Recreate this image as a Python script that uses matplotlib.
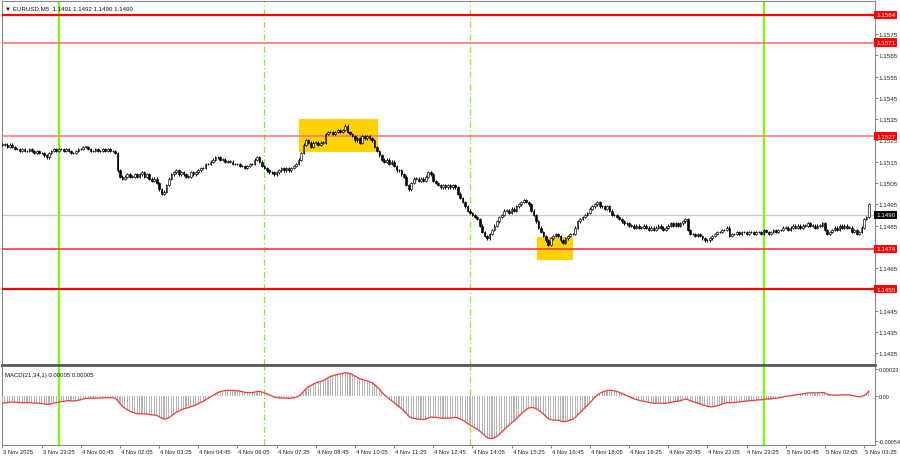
import numpy as np
import matplotlib
matplotlib.use("Agg")
import matplotlib.pyplot as plt
import matplotlib.transforms as mtransforms
from matplotlib.patches import Rectangle

# ---------------- data ----------------
header_text = "\u25bc EURUSD,M5  1.1491 1.1492 1.1490 1.1490"
macd_text = "MACD(21,34,1) 0.00005 0.00005"

# M5 closes, 3 Nov 22:05 -> 5 Nov 03:35
closes = [
    1.1523, 1.1523, 1.1522, 1.1523, 1.1522, 1.1521, 1.1521, 1.1520, 1.1521, 1.1520, 1.1520, 1.1521, 1.1520, 1.1519, 1.1520, 1.1519,
    1.1519, 1.1518, 1.1517, 1.1519, 1.1520, 1.1521, 1.1520, 1.1521, 1.1521, 1.1520, 1.1521, 1.1520, 1.1519, 1.1519, 1.1520, 1.1521,
    1.1521, 1.1522, 1.1522, 1.1521, 1.1520, 1.1520, 1.1521, 1.1520, 1.1520, 1.1521, 1.1520, 1.1521, 1.1520, 1.1520, 1.1519, 1.1511,
    1.1508, 1.1507, 1.1508, 1.1509, 1.1508, 1.1508, 1.1509, 1.1508, 1.1509, 1.1510, 1.1508, 1.1509, 1.1507, 1.1506, 1.1507, 1.1505,
    1.1502, 1.1500, 1.1501, 1.1504, 1.1507, 1.1509, 1.1510, 1.1511, 1.1509, 1.1510, 1.1509, 1.1508, 1.1508, 1.1510, 1.1509, 1.1510,
    1.1511, 1.1512, 1.1512, 1.1514, 1.1514, 1.1515, 1.1516, 1.1517, 1.1517, 1.1516, 1.1516, 1.1515, 1.1515, 1.1515, 1.1514, 1.1514,
    1.1514, 1.1513, 1.1513, 1.1512, 1.1513, 1.1514, 1.1514, 1.1516, 1.1517, 1.1515, 1.1513, 1.1512, 1.1511, 1.1510, 1.1510, 1.1509,
    1.1510, 1.1511, 1.1512, 1.1511, 1.1512, 1.1511, 1.1512, 1.1513, 1.1514, 1.1516, 1.1519, 1.1523, 1.1525, 1.1524, 1.1522, 1.1524,
    1.1524, 1.1523, 1.1524, 1.1524, 1.1528, 1.1529, 1.1529, 1.1528, 1.1529, 1.1530, 1.1529, 1.1530, 1.1532, 1.1529, 1.1528, 1.1527,
    1.1525, 1.1526, 1.1524, 1.1527, 1.1526, 1.1527, 1.1526, 1.1525, 1.1522, 1.1520, 1.1518, 1.1516, 1.1515, 1.1516, 1.1514, 1.1515,
    1.1513, 1.1511, 1.1511, 1.1509, 1.1508, 1.1504, 1.1502, 1.1505, 1.1507, 1.1507, 1.1506, 1.1507, 1.1506, 1.1508, 1.1510, 1.1509,
    1.1506, 1.1505, 1.1504, 1.1503, 1.1504, 1.1503, 1.1504, 1.1503, 1.1504, 1.1503, 1.1500, 1.1498, 1.1496, 1.1494, 1.1492, 1.1491,
    1.1490, 1.1489, 1.1488, 1.1485, 1.1482, 1.1480, 1.1479, 1.1481, 1.1483, 1.1485, 1.1487, 1.1489, 1.1490, 1.1492, 1.1492, 1.1491,
    1.1493, 1.1492, 1.1494, 1.1495, 1.1496, 1.1497, 1.1496, 1.1495, 1.1492, 1.1490, 1.1487, 1.1484, 1.1482, 1.1480, 1.1478, 1.1476,
    1.1479, 1.1480, 1.1481, 1.1480, 1.1478, 1.1477, 1.1479, 1.1480, 1.1481, 1.1481, 1.1484, 1.1487, 1.1488, 1.1489, 1.1490, 1.1491,
    1.1493, 1.1494, 1.1495, 1.1496, 1.1494, 1.1494, 1.1493, 1.1494, 1.1492, 1.1490, 1.1490, 1.1489, 1.1488, 1.1487, 1.1486, 1.1486,
    1.1485, 1.1485, 1.1484, 1.1485, 1.1484, 1.1484, 1.1485, 1.1484, 1.1483, 1.1484, 1.1483, 1.1484, 1.1485, 1.1484, 1.1483, 1.1484,
    1.1485, 1.1486, 1.1485, 1.1486, 1.1485, 1.1486, 1.1487, 1.1488, 1.1483, 1.1481, 1.1481, 1.1480, 1.1481, 1.1480, 1.1479, 1.1478,
    1.1478, 1.1479, 1.1480, 1.1481, 1.1482, 1.1482, 1.1483, 1.1483, 1.1484, 1.1480, 1.1481, 1.1481, 1.1482, 1.1481, 1.1482, 1.1482,
    1.1481, 1.1482, 1.1482, 1.1481, 1.1482, 1.1482, 1.1481, 1.1483, 1.1482, 1.1481, 1.1482, 1.1483, 1.1482, 1.1483, 1.1483, 1.1484,
    1.1484, 1.1483, 1.1484, 1.1485, 1.1484, 1.1485, 1.1484, 1.1485, 1.1485, 1.1486, 1.1485, 1.1485, 1.1484, 1.1485, 1.1485, 1.1486,
    1.1483, 1.1481, 1.1482, 1.1483, 1.1484, 1.1483, 1.1485, 1.1484, 1.1485, 1.1484, 1.1484, 1.1482, 1.1483, 1.1481, 1.1482, 1.1484,
    1.1488, 1.1489, 1.1495,
]

time_labels = ["3 Nov 2025", "3 Nov 23:25", "4 Nov 00:45", "4 Nov 02:05", "4 Nov 03:25",
               "4 Nov 04:45", "4 Nov 06:05", "4 Nov 07:25", "4 Nov 08:45", "4 Nov 10:05",
               "4 Nov 11:25", "4 Nov 12:45", "4 Nov 14:05", "4 Nov 15:25", "4 Nov 16:45",
               "4 Nov 18:05", "4 Nov 19:25", "4 Nov 20:45", "4 Nov 22:05", "4 Nov 23:25",
               "5 Nov 00:45", "5 Nov 02:05", "5 Nov 03:25"]
bars_per_label = 16

# price scale labels visible on the right (1.1455 and 1.1475 sit under level boxes)
price_ticks = [1.1425, 1.1435, 1.1445, 1.1465, 1.1485, 1.1495, 1.1505,
               1.1515, 1.1525, 1.1535, 1.1545, 1.1555, 1.1565, 1.1575]
level_prices = [1.1584, 1.1571, 1.1527, 1.1474, 1.1455]
bid_price = 1.1490

day_start_bars = [23, 311]        # 4 Nov 00:00, 5 Nov 00:00
session_bars = [107, 191]         # 4 Nov 07:00, 4 Nov 14:00

# highlighted zones: (bar from, bar to, price low, price high)
zone_start = [121.0, 218.2]
zone_end = [153.3, 233.3]
zone_low = [1.15197, 1.14686]
zone_high = [1.15352, 1.14794]

macd_fast, macd_slow = 21, 34
ema_seed_fast, ema_seed_slow = 1.15227, 1.15236
macd_axis_labels = [0.00033, 0.00, -0.00054]
macd_axis_text = ["0.00033", "0.00", "-0.00054"]

# ---------------- derived ----------------
c = np.array(closes)
n = len(c)
idx = np.arange(n)
o = np.concatenate([[c[0]], c[:-1]])
wick = 0.00006
hi = np.maximum(o, c) + wick
lo = np.minimum(o, c) - wick


def ema(x, period, seed):
    a = 2.0 / (period + 1)
    out = np.empty(len(x))
    e = seed
    for i, v in enumerate(x):
        e = e + a * (v - e)
        out[i] = e
    return out


macd = ema(c, macd_fast, ema_seed_fast) - ema(c, macd_slow, ema_seed_slow)
signal = macd.copy()

# ---------------- figure ----------------
FONT = ['Liberation Sans', 'DejaVu Sans']
plt.rcParams['font.family'] = FONT
fig = plt.figure(figsize=(9, 4.6), dpi=100)
fig.patch.set_facecolor('white')

W, H = 900.0, 460.0
L, R = 2.0, 875.0
ax = fig.add_axes([L / W, 1 - 366 / H, (R - L) / W, 364 / H])
axm = fig.add_axes([L / W, 1 - 446 / H, (R - L) / W, 79 / H])

xlim = (-0.2, 356.5)
for a in (ax, axm):
    a.set_xlim(*xlim)
    a.set_facecolor('white')
    for s in a.spines.values():
        s.set_color('#8a8a8a')
        s.set_linewidth(0.8)

ax.set_ylim(1.14195, 1.15905)
axm.set_ylim(-0.000588, 0.000366)

# zones
for x0, x1, y0, y1 in zip(zone_start, zone_end, zone_low, zone_high):
    ax.add_patch(Rectangle((x0, y0), x1 - x0, y1 - y0, facecolor='#ffd200',
                           edgecolor='none', zorder=1))

# bid line
ax.axhline(bid_price, color='#c8c8c8', lw=0.9, zorder=2)

# levels
lvl_col = ['#ff0000', '#ff6a6a', '#ff7070', '#ff3a3a', '#ff0000']
lvl_lw = [1.6, 1.1, 1.1, 1.2, 1.6]
for p, col, lw in zip(level_prices, lvl_col, lvl_lw):
    ax.axhline(p, color=col, lw=lw, zorder=3)

# vertical separators
for a in (ax, axm):
    for b in day_start_bars:
        a.axvline(b, color='#7cfc00', lw=1.6, zorder=2)
    for b in session_bars:
        a.axvline(b, color='#8ee63a', lw=0.9, ls=(0, (5, 2, 1, 2)), zorder=2)

# candles
ax.vlines(idx, lo, hi, color='black', lw=0.7, zorder=4)
body_h = c - o
body_h = np.where(np.abs(body_h) < 1e-9, 0.000015, body_h)
cols = np.where(c >= o, 'white', 'black')
ax.bar(idx, body_h, bottom=o, width=0.7, color=cols, edgecolor='black',
       linewidth=0.45, zorder=5)

# right price axis
ax.yaxis.tick_right()
ax.set_yticks(price_ticks)
ax.set_yticklabels([f"{p:.4f}" for p in price_ticks], fontsize=4.5, color='#222222')
ax.tick_params(axis='y', length=2.0, width=0.5, pad=0.6, color='#555555')
ax.set_xticks([])

ytrans = mtransforms.blended_transform_factory(ax.transAxes, ax.transData)
for p in level_prices:
    ax.text(1.0012, p, f"{p:.4f}", transform=ytrans, fontsize=4.5, color='white',
            va='center', ha='left', zorder=10,
            bbox=dict(boxstyle='square,pad=0.25', facecolor='#ff0000', edgecolor='none'))
ax.text(1.0012, bid_price, f"{bid_price:.4f}", transform=ytrans, fontsize=4.5,
        color='white', va='center', ha='left', zorder=10,
        bbox=dict(boxstyle='square,pad=0.25', facecolor='black', edgecolor='none'))

ax.text(0.004, 0.988, header_text, transform=ax.transAxes, fontsize=4.4,
        color='#111111', va='top', ha='left', family=FONT)

# MACD panel
axm.bar(idx, macd, width=0.45, color='#b4b4b4', zorder=3)
axm.plot(idx, signal, color='#f03a3a', lw=0.9, zorder=4)
axm.text(0.004, 0.93, macd_text, transform=axm.transAxes, fontsize=4.3,
         color='#111111', va='top', ha='left')
axm.yaxis.tick_right()
axm.set_yticks(macd_axis_labels)
axm.set_yticklabels(macd_axis_text, fontsize=4.0, color='#222222')
axm.tick_params(axis='y', length=2.0, width=0.5, pad=0.6, color='#555555')

tick_pos = [i * bars_per_label for i in range(len(time_labels))]
axm.set_xticks(tick_pos)
axm.set_xticklabels([])
axm.tick_params(axis='x', length=2.5, width=0.5, color='#555555')
xtrans = mtransforms.blended_transform_factory(axm.transData, axm.transAxes)
for tp, lab in zip(tick_pos, time_labels):
    axm.text(tp + 0.4, -0.05, lab, transform=xtrans, fontsize=4.2, color='#222222',
             va='top', ha='left', clip_on=False)

# thick separator between panels
ax.spines['bottom'].set_color('#555555')
ax.spines['bottom'].set_linewidth(2.0)
axm.spines['top'].set_color('#555555')
axm.spines['top'].set_linewidth(1.2)

fig.savefig('out.png', dpi=100, facecolor='white')
